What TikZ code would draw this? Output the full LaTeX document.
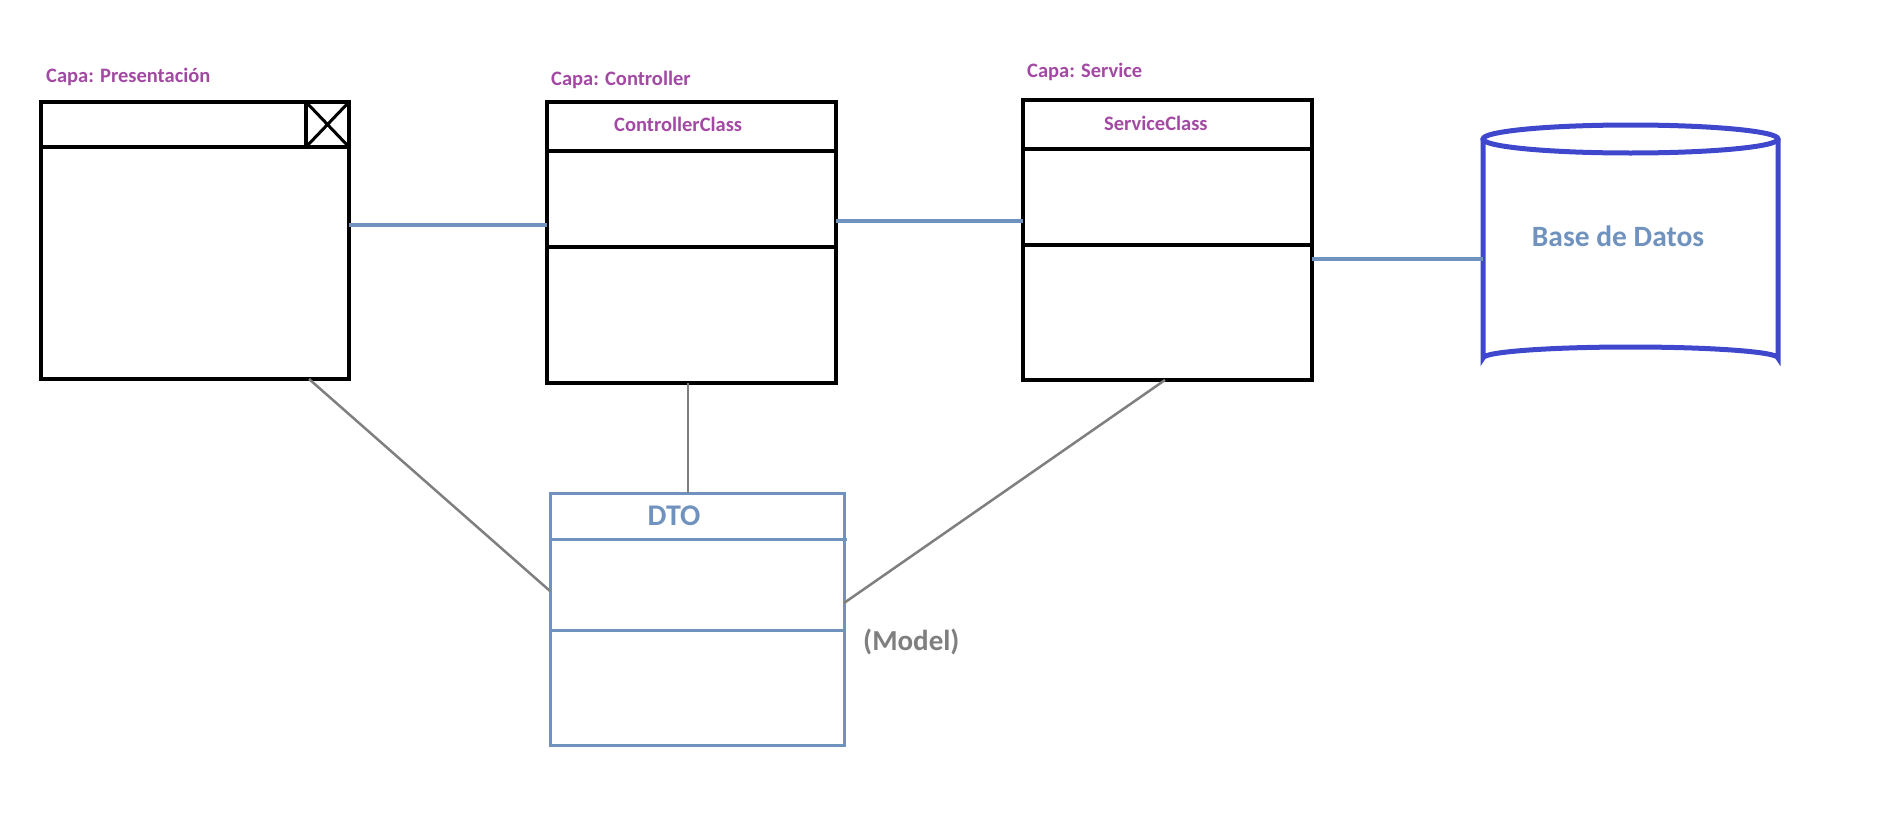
\documentclass[tikz,border=0pt]{standalone}
\usepackage{fontspec}
\setmainfont{Carlito}
\begin{document}
\definecolor{layerpurple}{RGB}{163,73,164}
\definecolor{steelblue}{RGB}{112,146,190}
\definecolor{dbindigo}{RGB}{63,72,204}
\definecolor{linkgray}{RGB}{127,127,127}
\begin{tikzpicture}[x=1pt,y=-1pt,
  classbox/.style={draw=black,line width=4pt,rectangle,inner sep=0pt,outer sep=0pt,anchor=north west},
  dtobox/.style={draw=steelblue,line width=3pt,rectangle,inner sep=0pt,outer sep=0pt,anchor=north west},
  layer/.style={text=layerpurple,font=\bfseries\fontsize{20.5}{22}\selectfont,inner sep=0pt,anchor=west},
  classname/.style={text=layerpurple,font=\bfseries\fontsize{20.5}{22}\selectfont,inner sep=0pt,anchor=west},
  bluelink/.style={draw=steelblue,line width=4.5pt},
  graylink/.style={draw=linkgray,line width=2.5pt}]
\useasboundingbox (0,0) rectangle (1893,835);

% layer labels
\node[layer] (lpres) at (46,77) {Capa: Presentación};
\node[layer] (lctrl) at (551,80) {Capa: Controller};
\node[layer] (lserv) at (1027,72) {Capa: Service};

% presentation window
\node[classbox,minimum width=308pt,minimum height=277pt] (pres) at (41,102) {};
\draw[black,line width=4pt] (pres.west |- 0,147) -- (pres.east |- 0,147);
\node[draw=black,line width=4pt,inner sep=0pt,outer sep=0pt,minimum width=43pt,minimum height=45pt,anchor=north east] (closebtn) at (pres.north east) {};
\draw[black,line width=3pt] (closebtn.north west) -- (closebtn.south east)
  (closebtn.south west) -- (closebtn.north east);

% controller class
\node[classbox,minimum width=289pt,minimum height=281pt] (ctrl) at (547,102) {};
\draw[black,line width=4pt] (ctrl.west |- 0,151) -- (ctrl.east |- 0,151);
\draw[black,line width=4pt] (ctrl.west |- 0,247) -- (ctrl.east |- 0,247);
\node[classname] (nctrl) at (614,124) {ControllerClass};

% service class
\node[classbox,minimum width=289pt,minimum height=280pt] (serv) at (1023,100) {};
\draw[black,line width=4pt] (serv.west |- 0,149) -- (serv.east |- 0,149);
\draw[black,line width=4pt] (serv.west |- 0,245) -- (serv.east |- 0,245);
\node[classname] (nserv) at (1104,123) {ServiceClass};

% database cylinder
\coordinate (dbtop) at (1630.5,139);
\coordinate (dbbot) at (1630.5,358);
\draw[dbindigo,line width=5pt] (dbtop) ellipse [x radius=147.5, y radius=14];
\draw[dbindigo,line width=5pt] (1483,139) -- (1483,358) arc[start angle=180,end angle=360,x radius=147.5,y radius=11] -- (1778,139);
\node[inner sep=0pt,outer sep=0pt,minimum width=295pt,minimum height=233pt] (db) at (1630.5,250) {};
\node[text=steelblue,font=\bfseries\fontsize{29.5}{31}\selectfont,inner sep=0pt] (ndb) at (1618,236) {Base de Datos};

% DTO class
\node[dtobox,minimum width=294pt,minimum height=252pt] (dto) at (550,493) {};
\draw[steelblue,line width=3pt] (dto.west |- 0,539) -- ([xshift=3pt]dto.east |- 0,539);
\draw[steelblue,line width=3pt] (dto.west |- 0,630) -- (dto.east |- 0,630);
\node[text=steelblue,font=\bfseries\fontsize{30}{32}\selectfont,inner sep=0pt] (ndto) at (674,516) {DTO};
\node[text=linkgray,font=\bfseries\fontsize{29}{31}\selectfont,inner sep=0pt,anchor=west] (model) at (863,642) {(Model)};

% layer connections
\draw[bluelink] (pres.east |- 0,225) -- (ctrl.west |- 0,225);
\draw[bluelink] (ctrl.east |- 0,221) -- (serv.west |- 0,221);
\draw[bluelink] (serv.east |- 0,259) -- (db.west |- 0,259);

% DTO usage
\draw[graylink] (pres.south -| 309,0) -- (dto.west |- 0,591);
\draw[graylink] (ctrl.south -| 688,0) -- (dto.north -| 688,0);
\draw[graylink] (serv.south -| 1165,0) -- (dto.east |- 0,603);
\end{tikzpicture}
\end{document}
